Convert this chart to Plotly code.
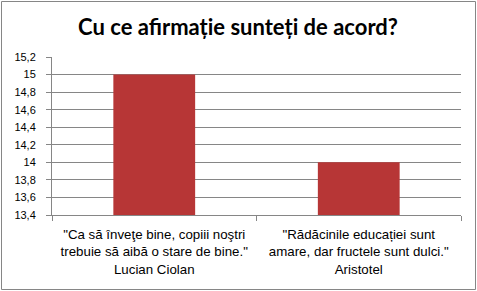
import plotly.graph_objects as go

categories = [
    "\"Ca să înveţe bine, copiii noştri<br>trebuie să aibă o stare de bine.\"<br>Lucian Ciolan",
    "\"Rădăcinile educației sunt<br>amare, dar fructele sunt dulci.\"<br>Aristotel",
]
values = [15, 14]
y_ticks = [13.4, 13.6, 13.8, 14.0, 14.2, 14.4, 14.6, 14.8, 15.0, 15.2]

fig = go.Figure()
fig.add_trace(go.Bar(
    x=categories, y=values,
    marker=dict(color="#B73636", line=dict(width=0)),
    width=0.4,
))

W, H = 477, 291
ml, mr, mt, mb = 52, 16, 57, 76
pw, ph = W - ml - mr, H - mt - mb

def px2paper_x(x):
    return (x - ml) / pw

def px2paper_y(y):
    return (H - mb - y) / ph

fig.add_shape(type="rect", xref="paper", yref="paper",
              x0=px2paper_x(1.5), x1=px2paper_x(475.5),
              y0=px2paper_y(289.5), y1=px2paper_y(1.5),
              line=dict(color="#868686", width=1), fillcolor="rgba(0,0,0,0)",
              layer="below")

fig.update_layout(
    width=W, height=H,
    margin=dict(l=ml, r=mr, t=mt, b=mb, autoexpand=False),
    paper_bgcolor="white", plot_bgcolor="white",
    separators=", ",
    showlegend=False,
    title=dict(text="<b>Cu ce afirmație sunteți de acord?</b>",
               xref="paper", xanchor="center",
               y=1 - 27 / H, yanchor="middle",
               font=dict(family="Lato", size=22, color="black")),
    font=dict(family="Liberation Sans", color="black"),
)
fig.layout.title.x = px2paper_x(238)

fig.update_xaxes(
    showline=True, linecolor="#868686", linewidth=1,
    ticks="outside", tickson="boundaries", ticklen=5, tickcolor="#868686",
    tickfont=dict(family="Liberation Sans", size=13.3, color="black"),
    tickangle=0, automargin=False,
    ticklabelstandoff=7,
    showgrid=False, fixedrange=True,
)
fig.update_yaxes(
    range=[13.4, 15.2], tickvals=y_ticks,
    showline=True, linecolor="#868686", linewidth=1,
    ticks="outside", ticklen=5, tickcolor="#868686",
    showgrid=True, gridcolor="#868686", gridwidth=1,
    tickfont=dict(family="Liberation Sans", size=11, color="black"),
    ticklabelstandoff=8, automargin=False,
    zeroline=False,
)

fig.write_html("out.html")
